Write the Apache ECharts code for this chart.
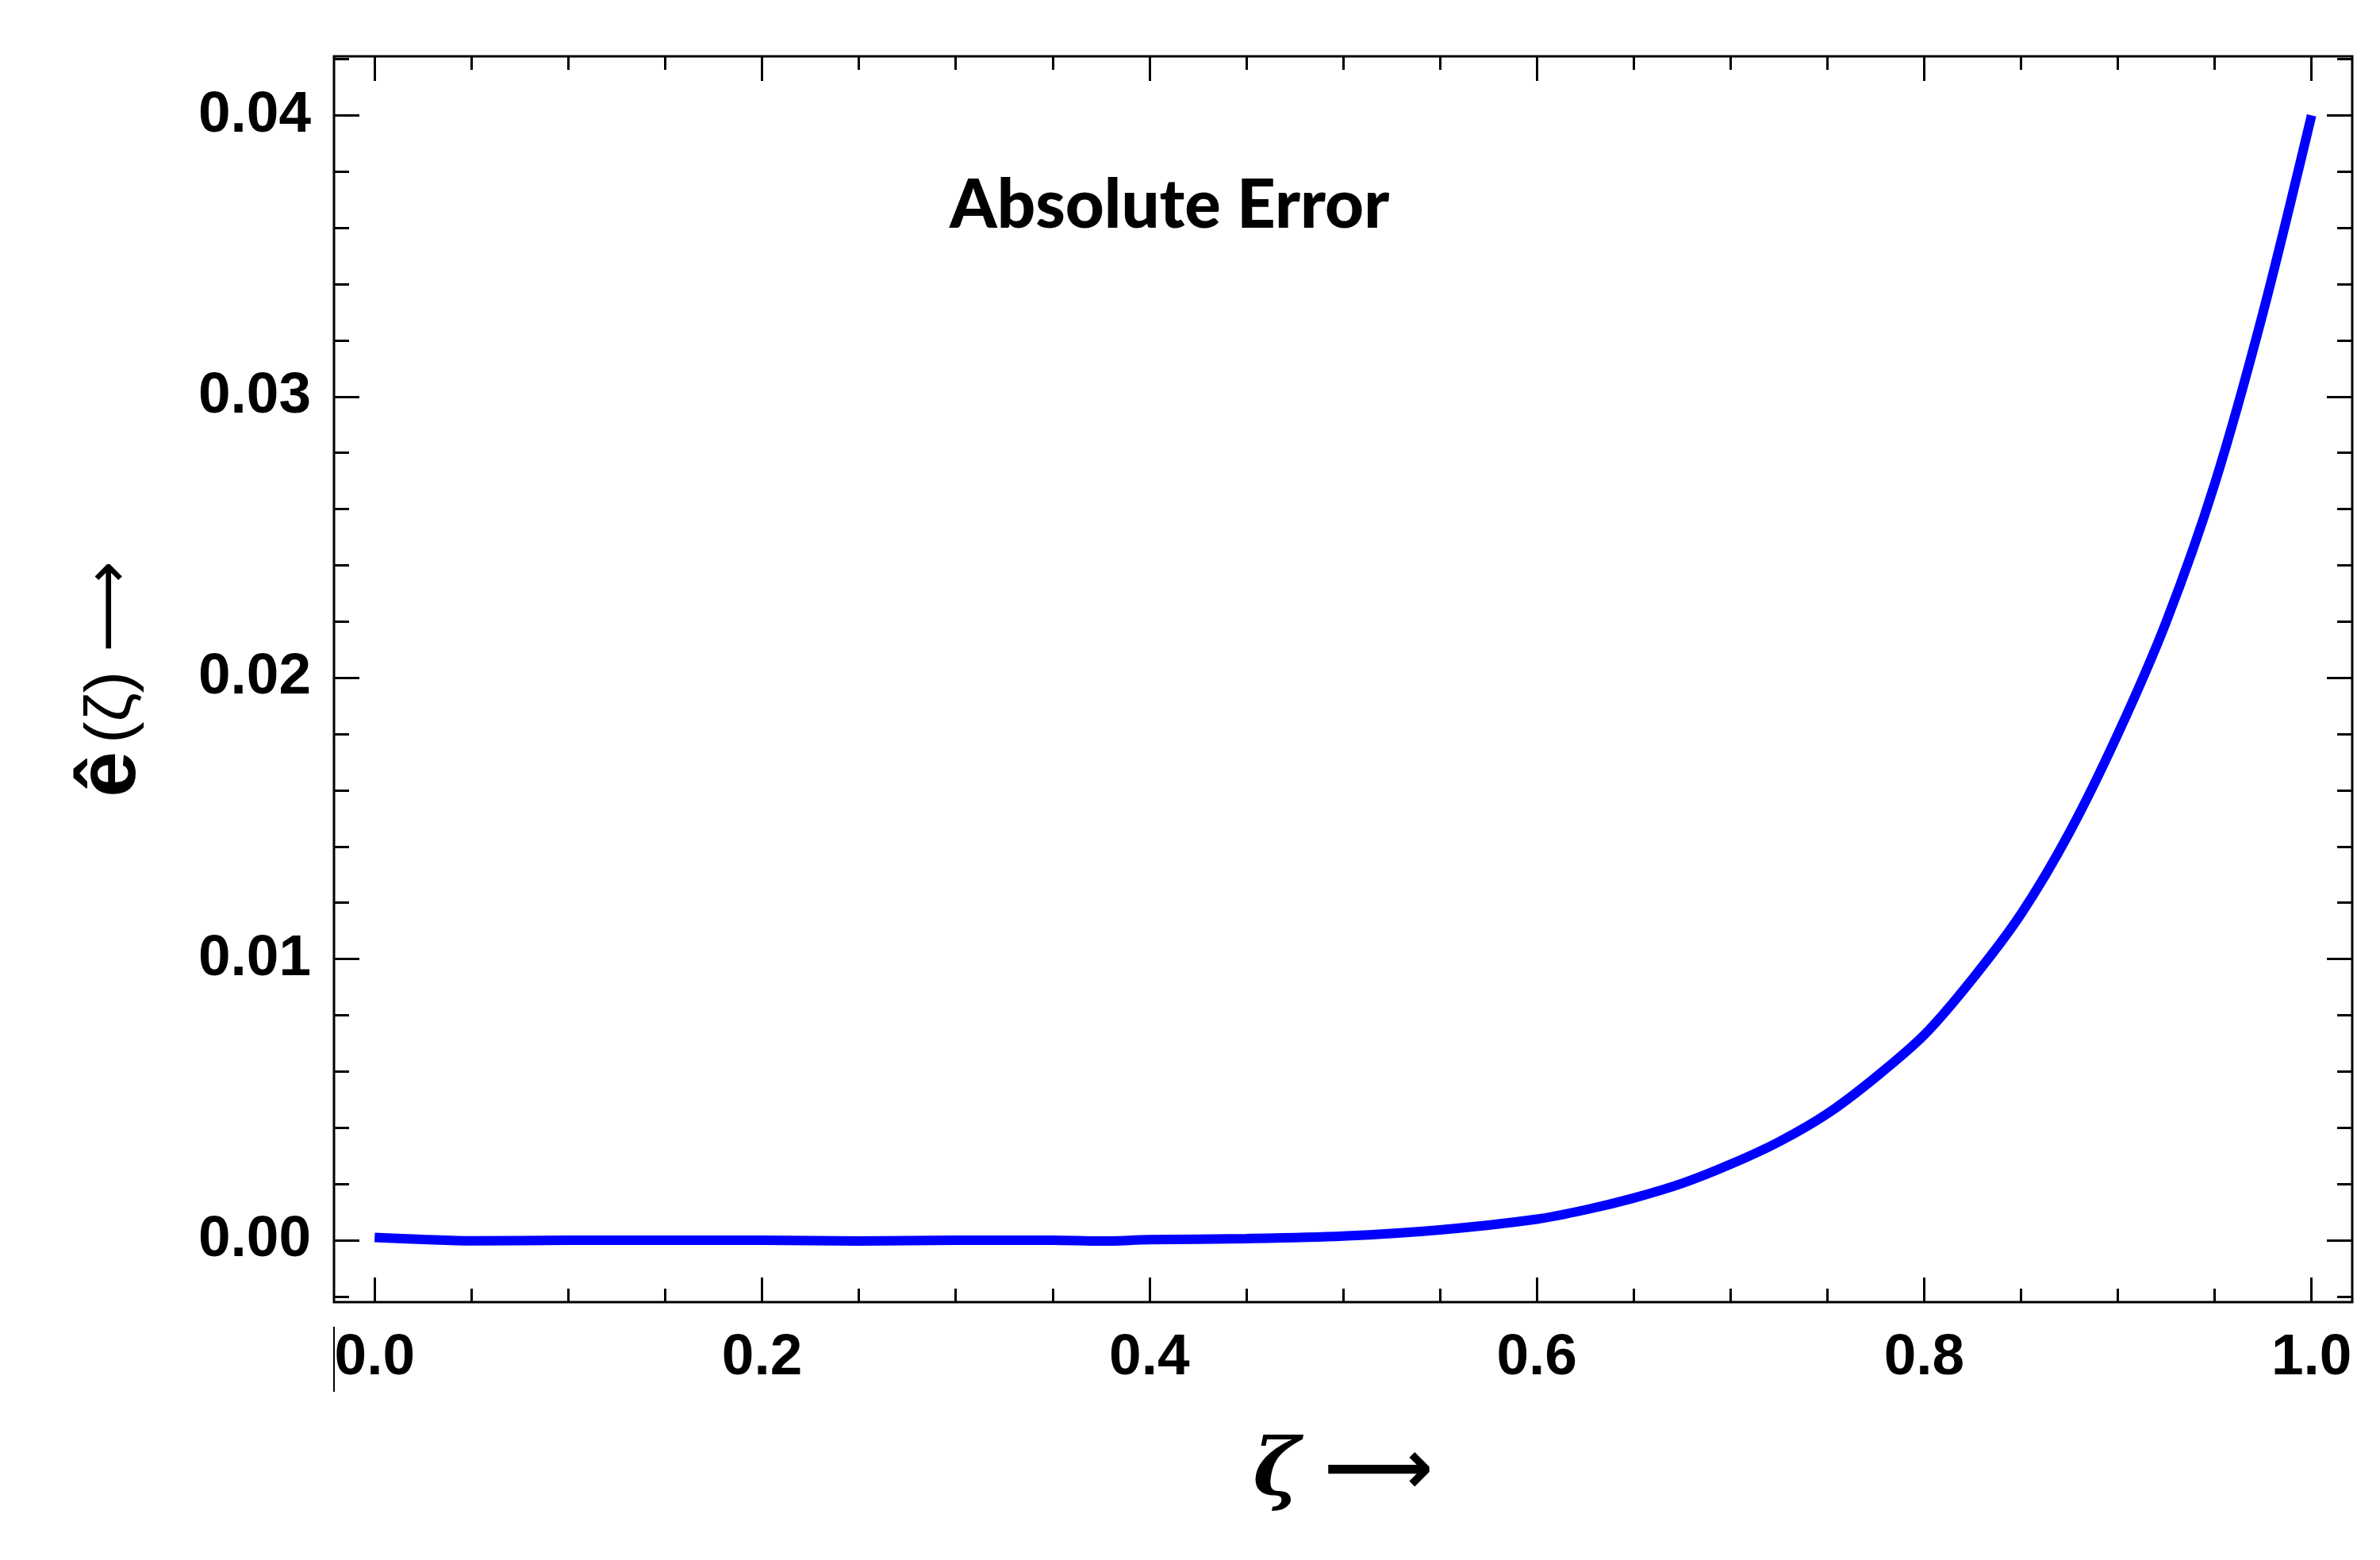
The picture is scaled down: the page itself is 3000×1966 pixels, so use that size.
<!DOCTYPE html>
<html>
<head>
<meta charset="utf-8">
<script src="https://cdn.jsdelivr.net/npm/echarts@6/dist/echarts.min.js"></script>
<style>
html,body{margin:0;padding:0;background:#fff;}
#chart{width:3000px;height:1966px;}
</style>
</head>
<body>
<div id="chart"></div>
<script>
// ---- data ----
const zeta = [0, 0.025, 0.05, 0.1, 0.15, 0.2, 0.25, 0.3, 0.35, 0.375, 0.4, 0.45, 0.5, 0.55, 0.6, 0.625, 0.65, 0.675, 0.7, 0.725, 0.75, 0.775, 0.8, 0.825, 0.85, 0.875, 0.9, 0.925, 0.95, 0.975, 1.0];
const absError = [0.0001, 0.00003, -0.00002, 0, 0, 0, -0.00003, 0, 0, -0.00003, 0.00002, 0.00006, 0.00015, 0.00037, 0.00075, 0.00108, 0.0015, 0.00202, 0.0027, 0.0035, 0.0045, 0.0058, 0.0073, 0.0093, 0.0116, 0.0145, 0.0180, 0.0220, 0.0269, 0.0330, 0.0400];
const xMajorTicks = [0, 0.2, 0.4, 0.6, 0.8, 1.0];
const xMinorTicks = [0.05, 0.1, 0.15, 0.25, 0.3, 0.35, 0.45, 0.5, 0.55, 0.65, 0.7, 0.75, 0.85, 0.9, 0.95];
const yMajorTicks = [0, 0.01, 0.02, 0.03, 0.04];
const yMinorTicks = [-0.002, 0.002, 0.004, 0.006, 0.008, 0.012, 0.014, 0.016, 0.018, 0.022, 0.024, 0.026, 0.028, 0.032, 0.034, 0.036, 0.038, 0.042];
const X_MIN = -0.021, X_MAX = 1.021;
const Y_MIN = -0.0022, Y_MAX = 0.0421;
const titleText = 'Absolute Error';

const tickFont = "'Liberation Sans', Arial, sans-serif";

function xAxis(pos, major, withLabel) {
  return {
    type: 'value', position: pos, min: X_MIN, max: X_MAX,
    axisLine: { show: false, onZero: false },
    splitLine: { show: false },
    axisTick: { show: true, inside: true, length: major ? 31 : 17,
      customValues: major ? xMajorTicks : xMinorTicks,
      lineStyle: { color: '#000', width: 3 } },
    axisLabel: { show: withLabel, customValues: xMajorTicks, margin: 34,
      formatter: v => v.toFixed(1),
      fontFamily: tickFont, fontWeight: 'bold', fontSize: 73, color: '#000' },
    name: withLabel ? '{z|ζ}{a|⟶}' : '',
    nameLocation: 'middle', nameGap: 166,
    nameTextStyle: { rich: {
      z: { fontFamily: "'DejaVu Serif', serif", fontStyle: 'italic', fontWeight: 'bold', fontSize: 100, color: '#000' },
      a: { fontFamily: "'DejaVu Sans', sans-serif", fontWeight: 'bold', fontSize: 96, color: '#000', padding: [0, 0, 0, 30] }
    } }
  };
}
function yAxis(pos, major, withLabel) {
  return {
    type: 'value', position: pos, min: Y_MIN, max: Y_MAX,
    axisLine: { show: false, onZero: false },
    splitLine: { show: false },
    axisTick: { show: true, inside: true, length: major ? 32 : 19,
      customValues: major ? yMajorTicks : yMinorTicks,
      lineStyle: { color: '#000', width: 3 } },
    axisLabel: { show: withLabel, customValues: yMajorTicks, margin: 29,
      formatter: v => v.toFixed(2),
      fontFamily: tickFont, fontWeight: 'bold', fontSize: 73, color: '#000' },
    name: withLabel ? '{e|ê}{p|(ζ)}{a|⟶}' : '',
    nameLocation: 'middle', nameGap: 228,
    nameTextStyle: { rich: {
      e: { fontFamily: "'Liberation Sans', sans-serif", fontWeight: 'bold', fontSize: 104, color: '#000', padding: [0, 10, 0, 0] },
      p: { fontFamily: "'Liberation Sans', sans-serif", fontSize: 82, color: '#000' },
      a: { fontFamily: "'DejaVu Sans', sans-serif", fontSize: 80, color: '#000', padding: [0, 0, 0, 24] }
    } }
  };
}

const chart = echarts.init(document.getElementById('chart'), null, { renderer: 'canvas' });
chart.setOption({
  backgroundColor: '#fff',
  animation: false,
  title: {
    text: titleText, left: 1192, top: 212,
    textStyle: { fontFamily: 'Lato', fontWeight: 900, fontSize: 85, lineHeight: 85, color: '#000' }
  },
  grid: { left: 421, right: 35, top: 71, bottom: 325, show: true, borderColor: '#000', borderWidth: 3, backgroundColor: 'transparent' },
  xAxis: [xAxis('bottom', true, true), xAxis('bottom', false, false), xAxis('top', true, false), xAxis('top', false, false)],
  yAxis: [yAxis('left', true, true), yAxis('left', false, false), yAxis('right', true, false), yAxis('right', false, false)],
  graphic: [{ type: 'line', shape: { x1: 421, y1: 1672, x2: 421, y2: 1754 }, style: { stroke: '#000', lineWidth: 2 } }],
  series: [{
    type: 'line', xAxisIndex: 0, yAxisIndex: 0,
    data: zeta.map((z, i) => [z, absError[i]]),
    smooth: 0.3, showSymbol: false,
    lineStyle: { color: '#0000ff', width: 12 }
  }]
});
</script>
</body>
</html>
